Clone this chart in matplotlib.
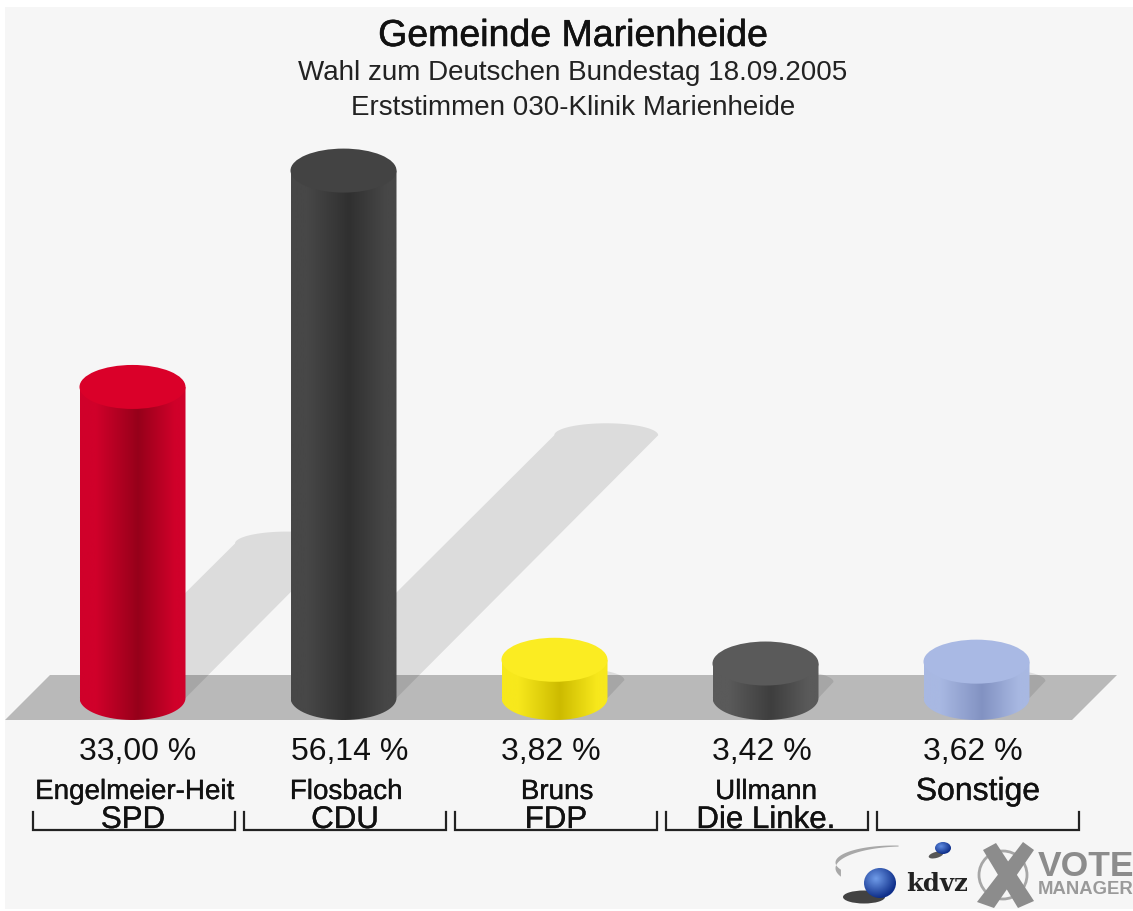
import numpy as np
import matplotlib
matplotlib.use("Agg")
import matplotlib.pyplot as plt
import matplotlib.patheffects as pe
from matplotlib.colors import LinearSegmentedColormap
from matplotlib.patches import Ellipse, Polygon, Rectangle

plt.rcParams['font.family'] = ['Liberation Sans', 'DejaVu Sans']

title = "Gemeinde Marienheide"
subtitle1 = "Wahl zum Deutschen Bundestag 18.09.2005"
subtitle2 = "Erststimmen 030-Klinik Marienheide"

candidates = ["Engelmeier-Heit", "Flosbach", "Bruns", "Ullmann", "Sonstige"]
parties = ["SPD", "CDU", "FDP", "Die Linke.", ""]
values = [33.00, 56.14, 3.82, 3.42, 3.62]
value_labels = ["33,00 %", "56,14 %", "3,82 %", "3,42 %", "3,62 %"]

# edge, centre, top of each cylinder
edge_cols = ["#d0002a", "#474747", "#f7e81c", "#5a5a5a", "#a8b8e2"]
mid_cols = ["#96001a", "#303030", "#cdbb00", "#3e3e3e", "#8292c2"]
top_cols = ["#da0029", "#434343", "#fbec22", "#5a5a5a", "#a9b9e4"]

BG = "#f6f6f6"
BASE_Y = 698      # centre of the bottom ellipse
X0 = 132.5
STEP = 211
RX = 53
RY = 22
PX_PER_PCT = 9.35
SHADOW_K = 4.68

# label centres differ a little from the bar centres
cand_x = [134.5, 346, 557, 766, 978]
val_x = [138, 350, 551, 762, 973]
party_x = [133, 345, 556, 766, 977]
bold = [pe.withStroke(linewidth=0.25, foreground="#111111")]
bold_title = [pe.withStroke(linewidth=0.4, foreground="#111111")]


def gradient(ax, x0, x1, y0, y1, cols, clip):
    cmap = LinearSegmentedColormap.from_list("g", cols)
    im = ax.imshow(np.linspace(0, 1, 128).reshape(1, -1), cmap=cmap,
                   extent=(x0, x1, y1, y0), aspect='auto', zorder=clip.get_zorder())
    im.set_clip_path(clip)


def sphere(ax, cx, cy, rx, ry, light, dark, z=6):
    yy, xx = np.mgrid[-1:1:80j, -1:1:80j]
    d = np.clip(np.hypot(xx + 0.25, yy + 0.3) / 1.3, 0, 1)
    cmap = LinearSegmentedColormap.from_list("s", [light, dark])
    clip = Ellipse((cx, cy), 2 * rx, 2 * ry, fc='none', ec='none', zorder=z)
    ax.add_patch(clip)
    im = ax.imshow(d, cmap=cmap, extent=(cx - rx, cx + rx, cy + ry, cy - ry),
                   aspect='auto', zorder=z)
    im.set_clip_path(clip)


fig = plt.figure(figsize=(11.33, 9.11), dpi=100, facecolor="white")
ax = fig.add_axes([0, 0, 1, 1])
ax.axis('off')

# panel with white margin on the left, top and bottom
ax.add_patch(Rectangle((5, 7), 1128, 902, fc=BG, ec='none', zorder=0))

# floor
ax.add_patch(Polygon([(5, 720), (1072, 720), (1117, 675), (50, 675)],
                     fc="#b9b9b9", ec='none', zorder=1))

t = np.linspace(0, np.pi, 40)
for i, val in enumerate(values):
    cx = X0 + i * STEP
    h = val * PX_PER_PCT + 2.5
    top = BASE_Y - h

    # shadow leaning to the right
    sh = val * SHADOW_K
    arc_x = cx + sh + (RX - 1) * np.cos(t)
    arc_y = BASE_Y - sh - 12 * np.sin(t)
    pts = [(cx - RX, BASE_Y), (cx + RX, BASE_Y)] + list(zip(arc_x, arc_y))
    ax.add_patch(Polygon(pts, fc="black", alpha=0.1, ec='none', zorder=2))

    # body with rounded bottom
    bx = cx + RX * np.cos(t)
    by = BASE_Y + RY * np.sin(t)
    body = Polygon([(cx + RX, top)] + list(zip(bx, by)) + [(cx - RX, top)],
                   fc='none', ec='none', zorder=3 + i * 0.01)
    ax.add_patch(body)
    cols = [(0, edge_cols[i]), (0.15, edge_cols[i]), (0.55, mid_cols[i]), (0.9, edge_cols[i]), (1, edge_cols[i])]
    gradient(ax, cx - RX, cx + RX, top, BASE_Y + RY, cols, body)
    ax.add_patch(Ellipse((cx, top), 2 * RX, 2 * RY, fc=top_cols[i], ec='none', zorder=4))

    # labels
    ax.text(val_x[i], 752, value_labels[i], ha='center', va='center', fontsize=23, color="#111111")
    ax.text(cand_x[i], 792, candidates[i], ha='center', va='center',
            fontsize=23 if i == 4 else 20, color="#111111", path_effects=bold)
    if parties[i]:
        ax.text(party_x[i], 820, parties[i], ha='center', va='center', fontsize=22.5, color="#111111",
                path_effects=bold)

    # bracket
    lx = 33 + i * STEP
    ax.plot([lx, lx, lx + 202, lx + 202], [812, 830, 830, 812], color="#222222", lw=1.6,
            solid_joinstyle='miter', zorder=5)

# titles
ax.text(573, 36, title, ha='center', va='center', fontsize=27, color="#111111", path_effects=bold_title)
ax.text(573, 73, subtitle1, ha='center', va='center', fontsize=20, color="#222222")
ax.text(573, 108, subtitle2, ha='center', va='center', fontsize=20, color="#222222")

# kdvz logo
a = np.linspace(np.radians(85), np.radians(205), 60)
ax.fill_between(893 + 58 * np.cos(a), 862 - 17 * np.sin(a),
                862 - 17 * np.sin(a) + np.linspace(1, 7, 60),
                color="#a8a8a8", lw=0, zorder=5)
ax.add_patch(Ellipse((864, 897), 42, 13, fc="#222222", ec='none', alpha=0.85, zorder=5))
sphere(ax, 880, 883, 16, 15, "#6f9be8", "#0f2f8a")
ax.add_patch(Ellipse((936, 855), 15, 6, fc="#222222", ec='none', alpha=0.75, angle=-15, zorder=5))
sphere(ax, 943, 848, 8, 6, "#5f8be0", "#0f2f8a")
ax.text(937, 884, "kdvz", ha='center', va='center', fontsize=17.5, fontweight='bold',
        color="#222222", family=['DejaVu Serif'], zorder=6)

# vote manager logo
ax.add_patch(Ellipse((1003, 875), 48, 48, fc='none', ec="#a6a6a6", lw=2, zorder=5))
ax.add_patch(Polygon([(983, 850), (996, 843), (1034, 901), (1018, 908)], fc="#8c8c8c", ec='none', zorder=6))
ax.add_patch(Polygon([(1023, 842), (1034, 850), (994, 908), (977, 902)], fc="#8c8c8c", ec='none', zorder=6))
ax.text(1086, 866, "VOTE", ha='center', va='center', fontsize=25.5, fontweight='bold', color="#8c8c8c", zorder=6)
ax.text(1086, 889, "MANAGER", ha='center', va='center', fontsize=13.3, fontweight='bold', color="#9a9a9a", zorder=6)

ax.set_xlim(0, 1133)
ax.set_ylim(911, 0)

fig.savefig("out.png", dpi=100, facecolor="white")
